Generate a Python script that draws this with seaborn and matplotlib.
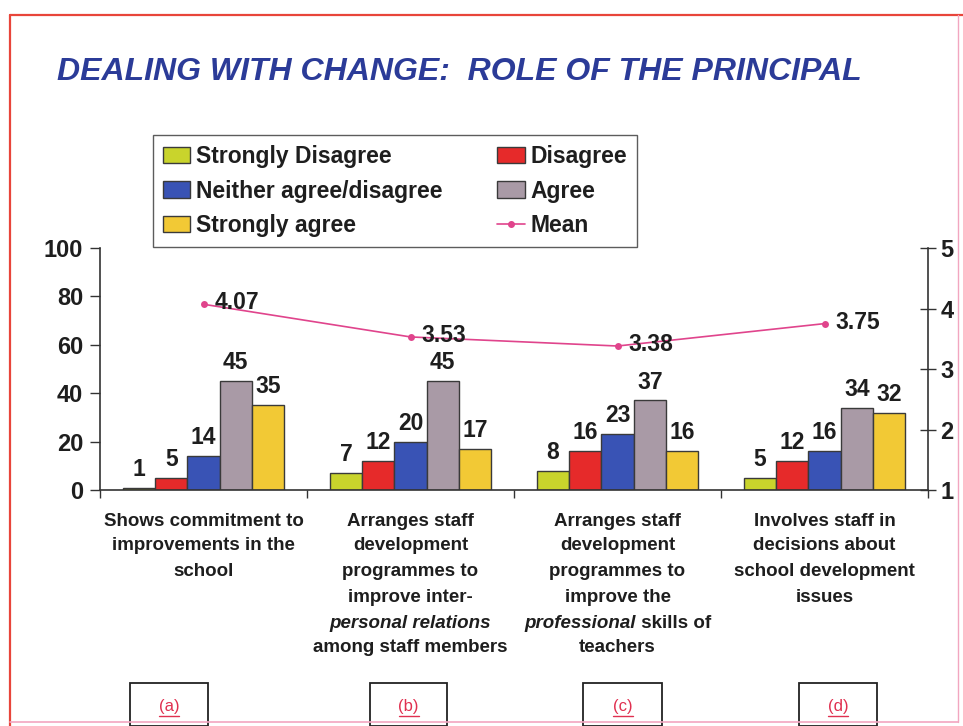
import numpy as np
import pandas as pd
import matplotlib
matplotlib.use("Agg")
import matplotlib.pyplot as plt
import seaborn as sns
from matplotlib.patches import Patch, Rectangle
from matplotlib.lines import Line2D
from matplotlib.offsetbox import TextArea, HPacker, AnnotationBbox
from matplotlib.transforms import blended_transform_factory

# ---------------- data ----------------
items = ["(a)", "(b)", "(c)", "(d)"]
responses = ["Strongly Disagree", "Disagree", "Neither agree/disagree", "Agree", "Strongly agree"]
strongly_disagree = [1, 7, 8, 5]
disagree = [5, 12, 16, 12]
neither = [14, 20, 23, 16]
agree = [45, 45, 37, 34]
strongly_agree = [35, 17, 16, 32]
means = [4.07, 3.53, 3.38, 3.75]
mean_labels = ["4.07", "3.53", "3.38", "3.75"]
left_ticks = [0, 20, 40, 60, 80, 100]
right_ticks = [1, 2, 3, 4, 5]
title = "DEALING WITH CHANGE:  ROLE OF THE PRINCIPAL"
category_lines = [
    [[("Shows commitment to", "normal")], [("improvements in the", "normal")], [("school", "normal")]],
    [[("Arranges staff", "normal")], [("development", "normal")], [("programmes to", "normal")],
     [("improve inter-", "normal")], [("personal relations", "italic")], [("among staff members", "normal")]],
    [[("Arranges staff", "normal")], [("development", "normal")], [("programmes to", "normal")],
     [("improve the", "normal")], [("professional", "italic"), (" skills of", "normal")], [("teachers", "normal")]],
    [[("Involves staff in", "normal")], [("decisions about", "normal")], [("school development", "normal")],
     [("issues", "normal")]],
]

colors = ["#c9d42c", "#e62a2a", "#3953b5", "#a99aa6", "#f2c935"]
mean_color = "#e0448c"

series = [strongly_disagree, disagree, neither, agree, strongly_agree]
rows = []
for r, vals in zip(responses, series):
    for it, v in zip(items, vals):
        rows.append({"item": it, "response": r, "pct": v})
df = pd.DataFrame(rows)

# ---------------- figure ----------------
sns.set_theme(style="white")
plt.rcParams["font.family"] = ["Liberation Sans", "DejaVu Sans"]

W, H = 963, 726
fig = plt.figure(figsize=(W / 100, H / 100), dpi=100)
fig.patch.set_facecolor("white")

def fx(px):
    return px / W

def fy(py):
    return 1 - py / H

ax_l, ax_r, ax_t, ax_b = 100, 928, 248, 490
ax = fig.add_axes([fx(ax_l), fy(ax_b), fx(ax_r - ax_l), (ax_b - ax_t) / H])
ax.set_facecolor("none")

sns.barplot(data=df, x="item", y="pct", hue="response", order=items, hue_order=responses,
            palette=colors, width=0.78, edgecolor="#3a3a3a", linewidth=1.0, ax=ax,
            legend=False, saturation=1)

for cont in ax.containers:
    ax.bar_label(cont, padding=5, fontsize=16.5, fontweight="bold", color="#1e1e1e")

ax.set_ylim(0, 100)
ax.set_xlim(-0.5, len(items) - 0.5)
ax.set_yticks(left_ticks)
ax.set_yticklabels([str(t) for t in left_ticks], fontsize=17, fontweight="bold", color="#1e1e1e")
ax.set_xticks(np.arange(len(items) + 1) - 0.5)
ax.set_xticklabels([])
ax.set_xlabel("")
ax.set_ylabel("")
ax.tick_params(axis="y", direction="out", length=7, width=1, color="#333333", pad=5, left=True)
ax.tick_params(axis="x", direction="out", length=6, width=1, color="#333333", bottom=True)
for s in ["top", "right"]:
    ax.spines[s].set_visible(False)
for s in ["left", "bottom"]:
    ax.spines[s].set_color("#333333")
    ax.spines[s].set_linewidth(1.2)

ax2 = ax.twinx()
ax2.set_facecolor("none")
sns.lineplot(x=np.arange(len(items)), y=means, ax=ax2, color=mean_color, marker="o",
             markersize=5, markeredgewidth=0, linewidth=1.2)
ax2.set_ylim(1, 5)
ax2.set_yticks(right_ticks)
ax2.set_yticklabels([str(t) for t in right_ticks], fontsize=17, fontweight="bold", color="#1e1e1e")
ax2.tick_params(axis="y", direction="inout", length=12, width=1, color="#333333", pad=3, right=True)
ax2.set_ylabel("")
for s in ["top", "left", "bottom"]:
    ax2.spines[s].set_visible(False)
ax2.spines["right"].set_color("#333333")
ax2.spines["right"].set_linewidth(1.2)
for i, (m, lab) in enumerate(zip(means, mean_labels)):
    ax2.annotate(lab, xy=(i, m), xytext=(8, 1), textcoords="offset points",
                 ha="left", va="center", fontsize=16.5, fontweight="bold", color="#1e1e1e")

# category labels
narrow = ["Liberation Sans Narrow", "Liberation Sans", "DejaVu Sans"]
line_y = [521, 546, 572, 598, 623, 648]
trans = blended_transform_factory(ax.transData, fig.transFigure)
for i, lines in enumerate(category_lines):
    for j, parts in enumerate(lines):
        areas = [TextArea(t, textprops=dict(fontsize=13.5, fontweight="bold", fontstyle=st,
                                            family=narrow, color="#1e1e1e"))
                 for t, st in parts]
        box = HPacker(children=areas, align="baseline", pad=0, sep=0)
        ab = AnnotationBbox(box, (i, fy(line_y[j])), xycoords=trans, frameon=False,
                            box_alignment=(0.5, 0.5), pad=0, annotation_clip=False)
        fig.add_artist(ab)

# title
fig.text(fx(57), fy(72), title, fontsize=23, fontweight="bold", fontstyle="italic",
         color="#2b3b98", ha="left", va="center")

# legend
handles = [Patch(facecolor=colors[0], edgecolor="#3a3a3a", label=responses[0]),
           Patch(facecolor=colors[2], edgecolor="#3a3a3a", label=responses[2]),
           Patch(facecolor=colors[4], edgecolor="#3a3a3a", label=responses[4]),
           Patch(facecolor=colors[1], edgecolor="#3a3a3a", label=responses[1]),
           Patch(facecolor=colors[3], edgecolor="#3a3a3a", label=responses[3]),
           Line2D([0], [0], color=mean_color, marker="o", markersize=4, lw=1.2, label="Mean")]
leg = fig.legend(handles=handles, ncol=2, loc="upper left", bbox_to_anchor=(fx(153), fy(135)),
                 frameon=True, fancybox=False, edgecolor="#333333",
                 prop=dict(size=16.5, weight="bold"),
                 handlelength=1.2, handleheight=0.7, handletextpad=0.25, columnspacing=2.4,
                 labelspacing=0.52, borderpad=0.42, borderaxespad=0)
leg.get_frame().set_linewidth(1.0)
for t in leg.get_texts():
    t.set_color("#1e1e1e")

# bottom boxes with red letters
box_x = [(130, 208), (370, 447), (583, 662), (799, 877)]
for (x0, x1), it in zip(box_x, items):
    fig.add_artist(Rectangle((fx(x0), 0), fx(x1 - x0), fy(683), transform=fig.transFigure,
                             fill=False, edgecolor="#222222", linewidth=1.3))
    cx = (x0 + x1) / 2
    fig.text(fx(cx), fy(706), it, fontsize=12, color="#e03050", ha="center", va="center")
    fig.add_artist(Line2D([fx(cx - 10), fx(cx + 10)], [fy(716), fy(716)], transform=fig.transFigure,
                          color="#e03050", linewidth=1))

# red frame
fig.add_artist(Line2D([fx(10), fx(10)], [fy(15), fy(726)], transform=fig.transFigure,
                      color="#e8453a", linewidth=1.6))
fig.add_artist(Line2D([fx(10), fx(963)], [fy(15), fy(15)], transform=fig.transFigure,
                      color="#e8453a", linewidth=1.6))
fig.add_artist(Line2D([fx(10), fx(958)], [fy(722), fy(722)], transform=fig.transFigure,
                      color="#f2a6c0", linewidth=1.2))
fig.add_artist(Line2D([fx(958), fx(958)], [fy(15), fy(722)], transform=fig.transFigure,
                      color="#f2a6c0", linewidth=1.0))

fig.savefig("out.png", dpi=100, facecolor="white")
